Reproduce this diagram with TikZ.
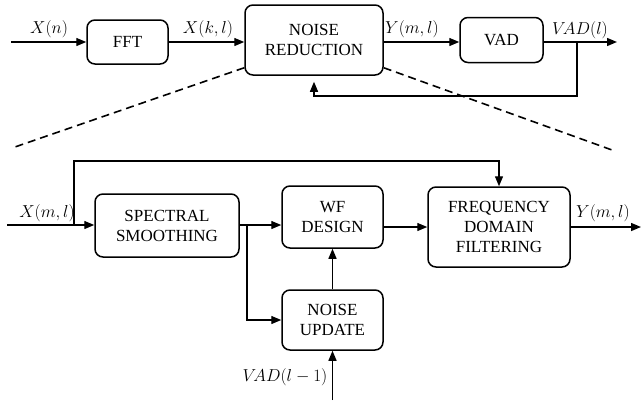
\documentclass[tikz,border=0pt]{standalone}
\usepackage{fontspec}
\setmainfont{Liberation Serif}
\usetikzlibrary{arrows.meta,calc}
\begin{document}
\begin{tikzpicture}[x=1pt,y=-1pt,
  blk/.style={draw,line width=1.5pt,rounded corners=8pt,align=center,inner sep=0pt,
    font=\fontsize{17}{20}\selectfont},
  wire/.style={line width=1.4pt},
  arr/.style={wire,-{Triangle[length=10pt,width=8pt]}},
  lbl/.style={font=\fontsize{17}{20}\selectfont,inner sep=0pt},
  dsh/.style={line width=1.6pt,dash pattern=on 8pt off 5pt}]
\useasboundingbox (0,0) rectangle (642,400);
% top row
\node[blk,minimum width=81pt,minimum height=44pt] (fft) at (127.5,42) {FFT};
\node[blk,minimum width=138pt,minimum height=70pt] (nr) at (314,40) {NOISE\\REDUCTION};
\node[blk,minimum width=83pt,minimum height=45pt] (vad) at (501.5,40) {VAD};
\coordinate (in1) at (11,42);
\coordinate (out1) at (617,42);
\coordinate (fb) at (577,42);
\coordinate (fbb) at (577,96);
\draw[arr] (in1) -- (in1 -| fft.west);
\draw[arr] (fft.east |- in1) -- (in1 -| nr.west);
\draw[arr] (nr.east |- in1) -- (in1 -| vad.west);
\draw[arr] (vad.east |- in1) -- (out1);
\draw[arr,shorten >=6pt] (fb) -- (fbb) -- (fbb -| nr.south) -- (nr.south);
\node[lbl] (lxn) at (49,29) {$X(n)$};
\node[lbl] (lxk) at (208,29) {$X(k,l)$};
\node[lbl] (lym) at (412,29) {$Y(m,l)$};
\node[lbl] (lvad) at (580,30) {$V\!AD(l)$};
% zoom lines
\coordinate (dl) at (12,148);
\coordinate (dr) at (612,150);
\draw[dsh] ($(nr.south west)+(0,-8)$) -- (dl);
\draw[dsh] ($(nr.south east)+(0,-8)$) -- (dr);
% bottom
\node[blk,minimum width=144pt,minimum height=63pt] (ss) at (167,225.5) {SPECTRAL\\SMOOTHING};
\node[blk,minimum width=101pt,minimum height=62pt] (wf) at (332.5,217) {WF\\DESIGN};
\node[blk,minimum width=101pt,minimum height=60pt] (nu) at (332.5,320) {NOISE\\UPDATE};
\node[blk,minimum width=142pt,minimum height=80pt] (fdf) at (499,227) {FREQUENCY\\DOMAIN\\FILTERING};
\coordinate (in2) at (7,225);
\coordinate (br1) at (74,225);
\coordinate (top) at (74,161);
\coordinate (br2) at (247,225);
\coordinate (br3) at (247,320);
\coordinate (out2) at (641,227);
\coordinate (vin) at (332.5,400);
\draw[arr] (in2) -- (in2 -| ss.west);
\draw[arr] (br1) -- (top) -- (top -| fdf.north) -- (fdf.north);
\draw[arr] (ss.east |- in2) -- (in2 -| wf.west);
\draw[arr] (br2) -- (br3) -- (nu.west);
\draw[arr] (fdf.west -| wf.east) -- (fdf.west);
\draw[arr] (fdf.east) -- (out2);
\draw[arr] (nu.north) -- (wf.south);
\draw[arr] (vin) -- (nu.south);
\node[lbl] (lxm) at (47,213) {$X(m,l)$};
\node[lbl] (lym2) at (603,213) {$Y(m,l)$};
\node[lbl] (lvad2) at (285,377) {$V\!AD(l-1)$};
\end{tikzpicture}
\end{document}
